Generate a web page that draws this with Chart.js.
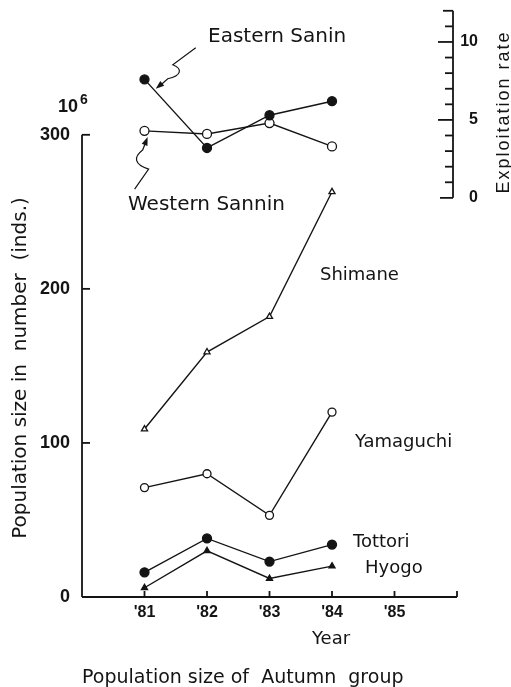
<!DOCTYPE html>
<html lang="en">
<head>
<meta charset="UTF-8">
<title>Population size of Autumn group</title>
<style>
  html, body { margin: 0; padding: 0; background: #fff; }
  #wrap { width: 511px; height: 687px; }
</style>
</head>
<body>
<div id="wrap"><canvas id="chart"></canvas></div>
<script src="https://cdn.jsdelivr.net/npm/chart.js"></script>
<script>
// ---- data ----
const years = [81, 82, 83, 84];
const yearTicks = [81, 82, 83, 84, 85];
const popTicks = [0, 100, 200, 300];
const rateTicks = [0, 5, 10];

// population size (x 10^6 inds.)
const shimane   = [109, 159, 182, 263];
const yamaguchi = [71, 80, 53, 120];
const tottori   = [16, 38, 23, 34];
const hyogo     = [6, 30, 12, 20];

// exploitation rate
const easternSanin  = [7.6, 3.2, 5.3, 6.2];
const westernSannin = [4.3, 4.1, 4.8, 3.3];

const ink = '#141414';
const hand = '"DejaVu Sans", sans-serif';
const helv = '"Liberation Sans", Arial, sans-serif';

function series(label, values, axis, style, radius, filled) {
    return {
        label: label,
        data: years.map((x, i) => ({x: x, y: values[i]})),
        yAxisID: axis,
        borderColor: ink,
        borderWidth: 1.4,
        pointStyle: style,
        pointRadius: radius,
        pointBorderWidth: 1.3,
        pointBorderColor: ink,
        pointBackgroundColor: filled ? ink : '#fff',
        tension: 0,
        fill: false
    };
}

function line(ctx, x1, y1, x2, y2) {
    ctx.beginPath();
    ctx.moveTo(x1, y1);
    ctx.lineTo(x2, y2);
    ctx.stroke();
}

function arrowHead(ctx, fromX, fromY, tipX, tipY) {
    const a = Math.atan2(tipY - fromY, tipX - fromX);
    ctx.beginPath();
    ctx.moveTo(tipX, tipY);
    ctx.lineTo(tipX - 9 * Math.cos(a - 0.35), tipY - 9 * Math.sin(a - 0.35));
    ctx.lineTo(tipX - 9 * Math.cos(a + 0.35), tipY - 9 * Math.sin(a + 0.35));
    ctx.closePath();
    ctx.fill();
}

// no extra label padding, the area is placed by hand
function noPad(s) {
    s.paddingTop = 0;
    s.paddingBottom = 0;
    s.paddingLeft = 0;
    s.paddingRight = 0;
}

// axes, labels and the little squiggly pointers of the original figure
const paper = {
    id: 'paper',
    afterDraw(chart) {
        const ctx = chart.ctx;
        const {x, y, y2} = chart.scales;
        const area = chart.chartArea;
        ctx.save();
        ctx.strokeStyle = ink;
        ctx.fillStyle = ink;
        ctx.lineWidth = 1.8;

        // left axis
        const lx = area.left;
        line(ctx, lx, y.getPixelForValue(0), lx, y.getPixelForValue(300));
        popTicks.slice(1).forEach(v => {
            const py = y.getPixelForValue(v);
            line(ctx, lx, py, lx + 8, py);
        });

        // bottom axis
        const by = y.getPixelForValue(0);
        line(ctx, x.getPixelForValue(80), by, x.getPixelForValue(86), by);
        yearTicks.concat([86]).forEach(v => {
            const px = x.getPixelForValue(v);
            line(ctx, px, by, px, by - 6);
        });

        // exploitation rate axis
        const rx = area.right - 4;
        line(ctx, rx, y2.getPixelForValue(0), rx, y2.getPixelForValue(12));
        for (let v = 0; v <= 12; v++) {
            const py = y2.getPixelForValue(v);
            let len = v % 5 === 0 ? 15 : 8;
            if (v === 0) len = 13;
            if (v === 12) len = 10;
            line(ctx, rx - len, py, rx, py);
        }

        // 10^6
        ctx.textBaseline = 'alphabetic';
        ctx.textAlign = 'right';
        ctx.font = 'bold 18px ' + helv;
        ctx.fillText('10', 78, 112);
        ctx.textAlign = 'left';
        ctx.font = 'bold 14px ' + helv;
        ctx.fillText('6', 80, 104);

        // series names
        ctx.font = '20px ' + hand;
        ctx.fillText('Eastern Sanin', 208, 42);
        ctx.fillText('Western Sannin', 128, 210);
        ctx.font = '18px ' + hand;
        ctx.fillText('Shimane', 320, 280);
        ctx.fillText('Yamaguchi', 355, 447);
        ctx.fillText('Tottori', 353, 547);
        ctx.fillText('Hyogo', 365, 573);
        ctx.fillText('Year', 312, 644);
        ctx.font = '19px ' + hand;
        ctx.fillText('Population size of  Autumn  group', 82, 683);

        // rotated titles
        ctx.save();
        ctx.translate(21, 368);
        ctx.rotate(-Math.PI / 2);
        ctx.textAlign = 'center';
        ctx.textBaseline = 'middle';
        ctx.font = '20px ' + hand;
        ctx.fillText('Population size in  number  (inds.)', 0, 0);
        ctx.restore();

        ctx.save();
        ctx.translate(504, 112);
        ctx.rotate(-Math.PI / 2);
        ctx.textAlign = 'center';
        ctx.textBaseline = 'middle';
        ctx.font = '18px ' + helv;
        ctx.letterSpacing = '2px';
        ctx.fillText('Exploitation rate', 0, 0);
        ctx.restore();

        // pointer to Eastern Sanin
        ctx.lineWidth = 1.2;
        let tx = x.getPixelForValue(81.18), ty = y2.getPixelForValue(7.0);
        ctx.beginPath();
        ctx.moveTo(tx + 40, ty - 41);
        ctx.lineTo(tx + 17, ty - 24);
        ctx.bezierCurveTo(tx + 27, ty - 20, tx + 26, ty - 13, tx + 12, ty - 10);
        ctx.lineTo(tx + 3, ty - 2);
        ctx.stroke();
        arrowHead(ctx, tx + 12, ty - 10, tx, ty);

        // pointer to Western Sannin
        tx = x.getPixelForValue(81.05);
        ty = y2.getPixelForValue(3.9);
        ctx.beginPath();
        ctx.moveTo(tx - 13, ty + 52);
        ctx.lineTo(tx + 1, ty + 32);
        ctx.bezierCurveTo(tx - 14, ty + 27, tx - 14, ty + 20, tx - 5, ty + 13);
        ctx.lineTo(tx - 1, ty + 3);
        ctx.stroke();
        arrowHead(ctx, tx - 5, ty + 13, tx, ty);

        ctx.restore();
    }
};

const ctx = document.getElementById('chart').getContext('2d');
new Chart(ctx, {
    type: 'line',
    data: {
        datasets: [
            series('Eastern Sanin', easternSanin, 'y2', 'circle', 4.5, true),
            series('Western Sannin', westernSannin, 'y2', 'circle', 4.5, false),
            series('Shimane', shimane, 'y', 'triangle', 3.5, false),
            series('Yamaguchi', yamaguchi, 'y', 'circle', 4, false),
            series('Tottori', tottori, 'y', 'circle', 4.5, true),
            series('Hyogo', hyogo, 'y', 'triangle', 3.5, true)
        ]
    },
    options: {
        responsive: true,
        maintainAspectRatio: false,
        animation: false,
        layout: { padding: { top: 10, left: 0, right: 33, bottom: 0 } },
        plugins: {
            legend: { display: false },
            tooltip: { enabled: false }
        },
        scales: {
            x: {
                type: 'linear',
                min: 80,
                max: 86,
                afterBuildTicks: s => { s.ticks = yearTicks.map(v => ({value: v})); },
                afterFit: s => { s.height = 90; noPad(s); },
                grid: { display: false, drawTicks: false },
                border: { display: false },
                ticks: {
                    color: ink,
                    padding: 6,
                    font: { family: helv, size: 16, weight: 'bold' },
                    callback: v => "'" + v
                }
            },
            y: {
                position: 'left',
                min: 0,
                max: 381,
                afterBuildTicks: s => { s.ticks = popTicks.map(v => ({value: v})); },
                afterFit: s => { s.width = 82; noPad(s); },
                grid: { display: false, drawTicks: false },
                border: { display: false },
                ticks: {
                    color: ink,
                    padding: 12,
                    font: { family: helv, size: 18, weight: 'bold' }
                }
            },
            y2: {
                position: 'right',
                min: -25.6,
                max: 12.05,
                afterBuildTicks: s => { s.ticks = rateTicks.map(v => ({value: v})); },
                afterFit: s => { s.width = 21; noPad(s); },
                grid: { display: false, drawTicks: false },
                border: { display: false },
                ticks: {
                    color: ink,
                    padding: 4,
                    crossAlign: 'far',
                    font: { family: helv, size: 16, weight: 'bold' }
                }
            }
        }
    },
    plugins: [paper]
});
</script>
</body>
</html>
